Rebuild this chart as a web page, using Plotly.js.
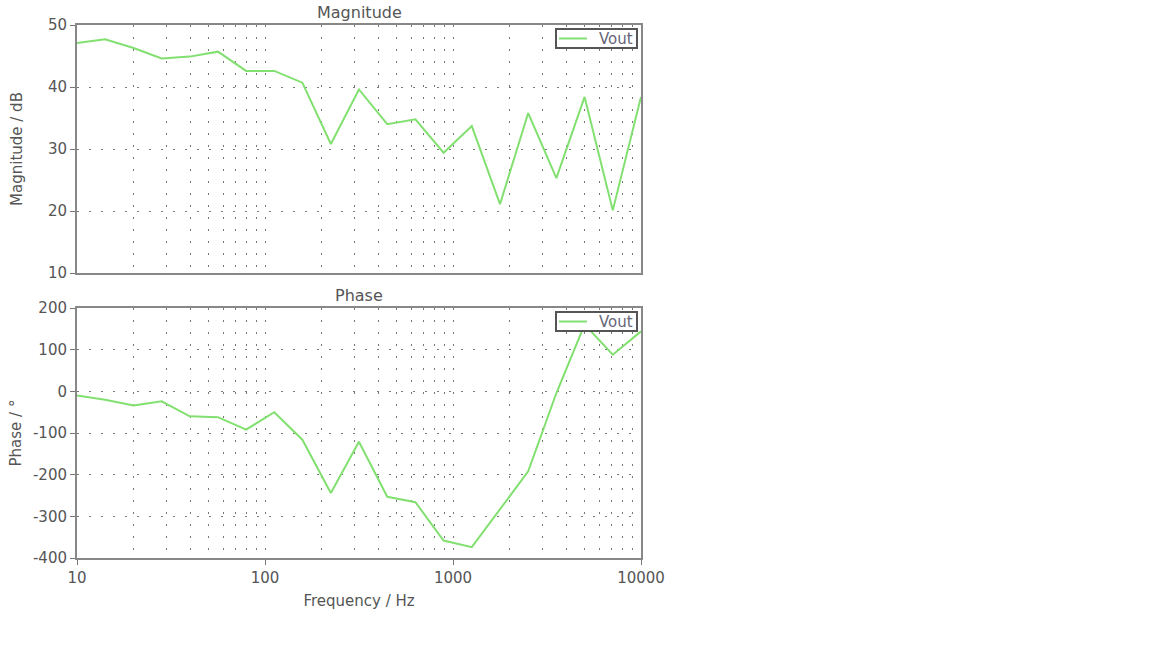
<!DOCTYPE html>
<html>
<head>
<meta charset="utf-8">
<script src="https://cdn.plot.ly/plotly-3.0.1.min.js"></script>
<style>
html,body{margin:0;padding:0;background:#fff;}
#chart{width:1152px;height:648px;}
</style>
</head>
<body>
<div id="chart"></div>
<script>
// Frequencies (Hz), 21 log-spaced points from 10 to 10000
const freq = [10, 14.1, 20, 28.2, 39.8, 56.2, 79.4, 112, 158, 224, 316, 447, 631, 891, 1259, 1778, 2512, 3548, 5012, 7079, 10000];
// Magnitude (dB)
const magnitude = [47.1, 47.7, 46.3, 44.6, 44.9, 45.7, 42.6, 42.6, 40.7, 30.8, 39.6, 34.0, 34.8, 29.4, 33.7, 21.1, 35.8, 25.3, 38.4, 20.1, 38.4];
// Phase (degrees)
const phase = [-10, -20, -34, -24, -60, -62, -92, -50, -116, -244, -121, -253, -266, -358, -374, -284, -192, -4, 160, 88, 144];
const seriesName = 'Vout';
const xTickVals = [10, 100, 1000, 10000];
const xTickText = ['10', '100', '1000', '10000'];
const magTickVals = [10, 20, 30, 40, 50];
const magTickText = ['10', '20', '30', '40', '50'];
const phaseTickVals = [-400, -300, -200, -100, 0, 100, 200];
const phaseTickText = ['-400', '-300', '-200', '-100', '0', '100', '200'];

const minorVals = [];
for (let d = 10; d < 10000; d *= 10) {
  for (let m = 1; m <= 9; m++) minorVals.push(d * m);
}
minorVals.push(10000);

const green = '#82e070';
const textColor = '#555';
const font = {family: 'DejaVu Sans, Verdana, sans-serif', size: 15, color: textColor};
const gridStyle = {gridcolor: '#777', griddash: '2px,10px', gridwidth: 1};

// Plot area in pixels (for legend boxes)
const plotL = 77, plotR = 641, plotT = 25, plotB = 558;
const px = v => (v - plotL) / (plotR - plotL);
const py = v => (plotB - v) / (plotB - plotT);

function xaxisDef(anchor, showLabels) {
  return Object.assign({
    type: 'log',
    range: [1, 4],
    anchor: anchor,
    tickvals: xTickVals,
    ticktext: xTickText,
    showticklabels: showLabels,
    ticks: showLabels ? 'outside' : '',
    ticklen: 5,
    tickcolor: '#777',
    showgrid: true,
    minor: Object.assign({tickvals: minorVals, showgrid: true, ticks: ''}, gridStyle),
    showline: true,
    linecolor: '#888',
    linewidth: 2,
    mirror: true,
    zeroline: false,
    tickfont: {size: 15, color: textColor}
  }, gridStyle);
}
function yaxisDef(anchor, domain, range, tv, tt, title, standoff) {
  return Object.assign({
    anchor: anchor,
    domain: domain,
    range: range,
    tickvals: tv,
    ticktext: tt,
    ticks: 'outside',
    ticklen: 5,
    tickcolor: '#777',
    showgrid: true,
    showline: true,
    linecolor: '#888',
    linewidth: 2,
    mirror: true,
    zeroline: false,
    tickfont: {size: 15, color: textColor},
    title: {text: title, font: {size: 15, color: textColor}, standoff: standoff}
  }, gridStyle);
}

const traces = [
  {x: freq, y: magnitude, type: 'scatter', mode: 'lines', name: seriesName,
   line: {color: green, width: 2}, xaxis: 'x', yaxis: 'y'},
  {x: freq, y: phase, type: 'scatter', mode: 'lines', name: seriesName,
   line: {color: green, width: 2}, xaxis: 'x2', yaxis: 'y2'}
];

// Legend boxes drawn per subplot (compact, as in the reference)
function legendParts(boxTop) {
  const boxBottom = boxTop + 19;
  const mid = boxTop + 9.5;
  return {
    shapes: [
      {type: 'rect', xref: 'paper', yref: 'paper', layer: 'above',
       x0: px(556), x1: px(637), y0: py(boxBottom), y1: py(boxTop),
       fillcolor: '#fff', line: {color: '#555', width: 2}},
      {type: 'line', xref: 'paper', yref: 'paper', layer: 'above',
       x0: px(559), x1: px(587), y0: py(mid), y1: py(mid),
       line: {color: green, width: 2}}
    ],
    annotation: {text: seriesName, xref: 'paper', yref: 'paper', x: px(635), y: py(mid),
      xanchor: 'right', yanchor: 'middle', showarrow: false,
      font: {size: 15, color: '#667'}}
  };
}
const leg1 = legendParts(29);
const leg2 = legendParts(312);

const layout = {
  width: 1152, height: 648,
  paper_bgcolor: '#fff', plot_bgcolor: '#fff',
  font: font,
  margin: {l: plotL, r: 1152 - plotR, t: plotT, b: 648 - plotB},
  showlegend: false,
  xaxis: xaxisDef('y', false),
  yaxis: yaxisDef('x', [py(273), 1], [10, 50], magTickVals, magTickText, 'Magnitude / dB', 22),
  xaxis2: Object.assign(xaxisDef('y2', true), {title: {text: 'Frequency / Hz', font: {size: 15, color: textColor}, standoff: 9}}),
  yaxis2: yaxisDef('x2', [0, py(308)], [-400, 200], phaseTickVals, phaseTickText, 'Phase / °', 8),
  shapes: leg1.shapes.concat(leg2.shapes),
  annotations: [
    {text: 'Magnitude', xref: 'paper', yref: 'paper', x: 0.5, y: 1, yanchor: 'bottom', yshift: 1,
     showarrow: false, font: {size: 16, color: textColor}},
    {text: 'Phase', xref: 'paper', yref: 'paper', x: 0.5, y: py(308), yanchor: 'bottom', yshift: 1,
     showarrow: false, font: {size: 16, color: textColor}},
    leg1.annotation,
    leg2.annotation
  ]
};

Plotly.newPlot('chart', traces, layout, {displayModeBar: false, staticPlot: true});
</script>
</body>
</html>
